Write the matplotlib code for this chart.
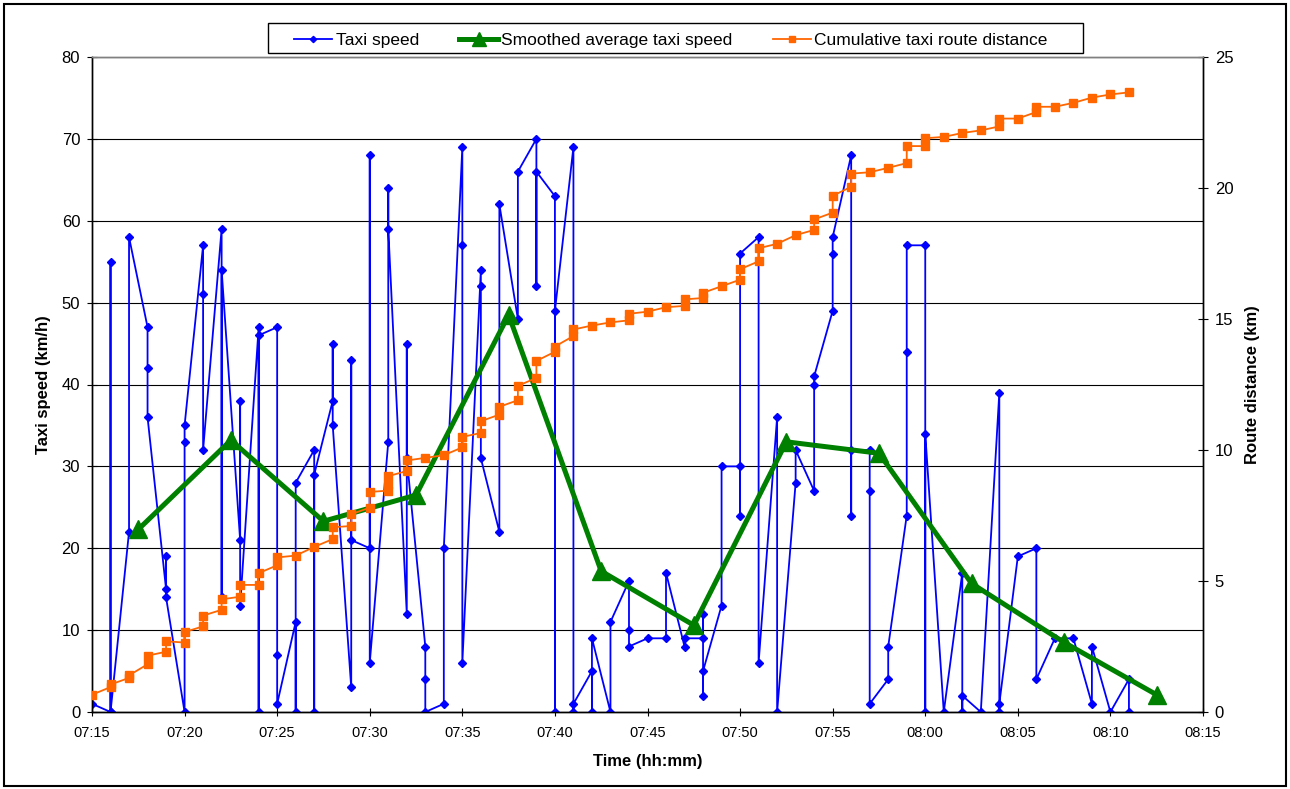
"""Taxi speed, smoothed average speed and cumulative route distance over time."""

import matplotlib
matplotlib.use("Agg")
import matplotlib.pyplot as plt
from matplotlib.patches import Rectangle
from matplotlib.ticker import FixedLocator, MultipleLocator

plt.rcParams["font.family"] = ["Liberation Sans", "DejaVu Sans"]

# ---- data -------------------------------------------------------------
axis_start = "07:15"
axis_end = "08:15"
time_ticks = ["07:15", "07:20", "07:25", "07:30", "07:35", "07:40", "07:45",
              "07:50", "07:55", "08:00", "08:05", "08:10", "08:15"]

# raw taxi speed samples (km/h), one list per minute starting at 07:15
speed_first_minute = "07:15"
taxi_speed = [
    [1], [0, 55, 0], [22, 58], [47, 42, 36], [15, 19, 14],
    [0, 33, 35], [57, 51, 32], [59, 14, 54], [21, 38, 13], [47, 0, 46],
    [47, 7, 1], [11, 0, 28], [32, 0, 29], [38, 45, 35], [3, 43, 21],
    [20, 68, 6], [33, 64, 59], [12, 45, 31], [8, 4, 0], [1, 20],
    [69, 57, 6], [54, 52, 31], [22, 62], [48, 66], [70, 52, 66],
    [63, 0, 49], [69, 0, 1], [5, 0, 9], [0, 11], [16, 10, 8],
    [9], [9, 17], [8, 9], [9, 12, 2, 5], [13, 30],
    [30, 24, 56], [58, 6], [36, 0], [28, 32], [27, 40, 41],
    [49, 56, 58], [68, 24, 32], [32, 27, 1], [4, 8], [24, 44, 57],
    [57, 0, 34], [0], [17, 0, 2], [0], [39, 0, 1],
    [19], [20, 4], [9], [9], [1, 8],
    [0], [4, 0],
]

# cumulative route distance (km), one list per minute starting at 07:15
route_distance = [
    [0.66], [0.95, 1.05], [1.3, 1.4], [1.82, 2.15], [2.3, 2.7],
    [2.65, 3.05], [3.27, 3.68], [3.9, 4.3], [4.4, 4.85], [4.85, 5.3],
    [5.6, 5.9], [5.97], [6.3], [6.6, 7.05], [7.1, 7.55],
    [7.8, 8.4], [8.45, 8.7, 9.0], [9.2, 9.6], [9.7], [9.8],
    [10.1, 10.5], [10.65, 11.1], [11.35, 11.65], [11.9, 12.45], [12.75, 13.4],
    [13.75, 13.95], [14.35, 14.6], [14.75], [14.87], [14.95, 15.2],
    [15.28], [15.45], [15.5, 15.75], [15.8, 16.0], [16.25],
    [16.5, 16.9], [17.2, 17.7], [17.87], [18.2], [18.4, 18.8],
    [19.06, 19.7], [20.05, 20.55], [20.6], [20.77], [20.95, 21.6],
    [21.6, 21.9], [21.95], [22.1], [22.2], [22.35, 22.65],
    [22.65], [22.9, 23.1], [23.1], [23.25], [23.45],
    [23.57], [23.65],
]

smoothed_times = ["07:17:30", "07:22:30", "07:27:30", "07:32:30", "07:37:30",
                  "07:42:30", "07:47:30", "07:52:30", "07:57:30", "08:02:30",
                  "08:07:30", "08:12:30"]
smoothed_speed = [22.3, 33.2, 23.3, 26.5, 48.5, 17.2, 10.6, 33.0, 31.6, 15.7, 8.5, 2.1]


def to_minutes(stamp):
    parts = [int(p) for p in stamp.split(":")]
    secs = parts[2] if len(parts) > 2 else 0
    return parts[0] * 60 + parts[1] + secs / 60.0


def flatten(per_minute, first):
    t0 = to_minutes(first)
    xs, ys = [], []
    for i, vals in enumerate(per_minute):
        for v in vals:
            xs.append(t0 + i)
            ys.append(v)
    return xs, ys


speed_x, speed_y = flatten(taxi_speed, speed_first_minute)
dist_x, dist_y = flatten(route_distance, speed_first_minute)
smooth_x = [to_minutes(t) for t in smoothed_times]

# ---- figure -----------------------------------------------------------
W, H = 1290, 789
fig = plt.figure(figsize=(W / 100, H / 100), dpi=100)
fig.patches.append(Rectangle((4 / W, 3 / H), 1 - 8 / W, 1 - 7 / H, transform=fig.transFigure,
                             fill=False, edgecolor="black", linewidth=1.5))

ax = fig.add_axes([92 / W, 1 - 712 / H, (1203 - 92) / W, (712 - 57) / H])
ax2 = ax.twinx()

l1, = ax.plot(speed_x, speed_y, color="#0000FF", linewidth=1.3, marker="D",
              markersize=4, label="Taxi speed", zorder=3)
l2, = ax.plot(smooth_x, smoothed_speed, color="#008000", linewidth=3.6, marker="^",
              markersize=13, label="Smoothed average taxi speed", zorder=4)
l3, = ax2.plot(dist_x, dist_y, color="#FF6600", linewidth=1.3, marker="s",
               markersize=6, label="Cumulative taxi route distance", zorder=5)

ax.set_xlim(to_minutes(axis_start), to_minutes(axis_end))
ax.xaxis.set_major_locator(FixedLocator([to_minutes(t) for t in time_ticks]))
ax.set_xticklabels(time_ticks)
ax.set_ylim(0, 80)
ax.yaxis.set_major_locator(MultipleLocator(10))
ax2.set_ylim(0, 25)
ax2.yaxis.set_major_locator(MultipleLocator(5))

ax.grid(axis="y", color="black", linewidth=0.8)
ax.set_axisbelow(True)
for a in (ax, ax2):
    for s in a.spines.values():
        s.set_color("black")
        s.set_linewidth(1.0)
    a.spines["top"].set_color("#808080")

ax.tick_params(axis="x", direction="inout", length=6, labelsize=10.5, pad=7)
ax.tick_params(axis="y", direction="inout", length=7, labelsize=12, pad=5)
ax2.tick_params(axis="y", direction="inout", length=7, labelsize=12, pad=5)

ax.set_xlabel("Time (hh:mm)", fontsize=12, fontweight="bold", labelpad=10)
ax.set_ylabel("Taxi speed (km/h)", fontsize=12, fontweight="bold", labelpad=7.5)
ax2.set_ylabel("Route distance (km)", fontsize=12, fontweight="bold", labelpad=8)

# legend box drawn separately so the entries can sit inside wider margins
fig.patches.append(Rectangle((268 / W, 1 - 53 / H), (1083 - 268) / W, 30 / H,
                             transform=fig.transFigure, fill=True, facecolor="white",
                             edgecolor="black", linewidth=1.0, zorder=10))
leg = fig.legend(handles=[l1, l2, l3], loc="lower left", ncol=3, mode="expand",
                 bbox_to_anchor=(289 / W, 1 - 53 / H, (1053 - 289) / W, 30 / H),
                 bbox_transform=fig.transFigure, borderaxespad=0,
                 fontsize=12.5, frameon=False, handlelength=2.2, handletextpad=0.2,
                 columnspacing=2.5, borderpad=0.3, markerscale=0.8)
leg.set_zorder(11)

fig.savefig("out.png", dpi=100)
